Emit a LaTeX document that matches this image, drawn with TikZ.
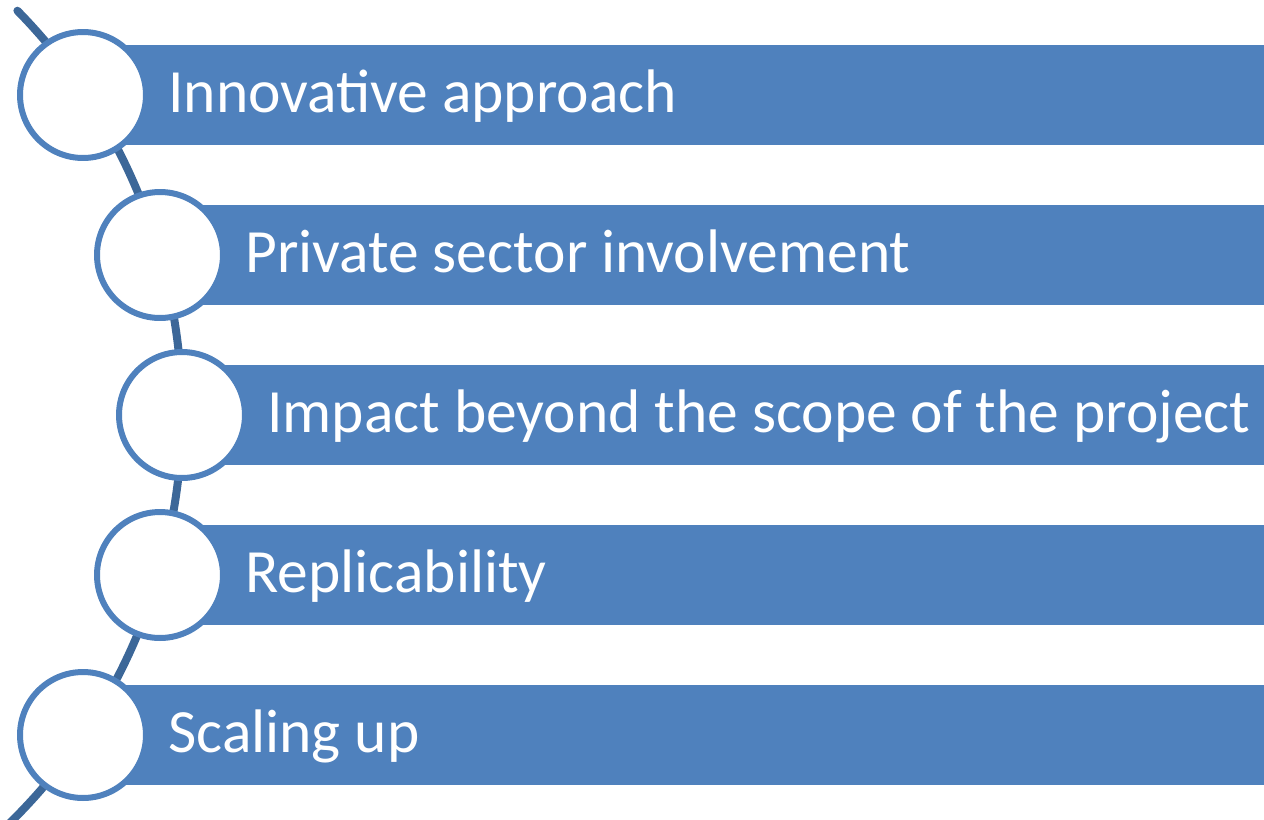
\documentclass[tikz,border=0pt]{standalone}
\usepackage{fontspec}
\setmainfont{Carlito}
\usetikzlibrary{positioning}
\definecolor{barblue}{HTML}{4F81BD}
\definecolor{spineblue}{HTML}{3C6798}

\begin{document}
\begin{tikzpicture}[
        x=0.02cm,
        y=-0.02cm,
        bar/.style={
            rectangle,
            fill=barblue,
            anchor=west,
            minimum height=2cm,
            inner sep=0pt
        },
        disc/.style={
            circle,
            draw=barblue,
            fill=white,
            line width=0.12cm,
            minimum size=2.52cm,
            inner sep=0pt
        },
        caption/.style={
            anchor=base west,
            text=white,
            inner sep=0pt,
            font=\fontsize{35}{40}\selectfont
        },
        spine/.style={draw=spineblue, line width=0.16cm, line cap=round}
    ]

    % PAGE: fixed frame, everything outside is cut off
    \clip (0,0) rectangle (1264,819);

    % SPINE: large arc behind the discs
    \draw[spine] (-392,413) ++(-44.5:574) arc[start angle=-44.5, end angle=47, radius=574];

    % ROWS: bar, disc and caption
    \foreach \i/\cx/\txt in {1/83/Innovative approach,
                             2/160/Private sector involvement,
                             3/182/Impact beyond the scope of the project,
                             4/160/Replicability,
                             5/83/Scaling up} {
        \pgfmathsetmacro{\cy}{95+160*(\i-1)}
        \node[bar, minimum width={(1264-\cx)*0.02cm}] (bar\i) at (\cx,\cy) {};
        \node[disc] (dot\i) at (\cx,\cy) {};
        \node[caption] (label\i) at ([xshift=0.38cm, yshift=-0.35cm]dot\i.east) {\txt};
    }

\end{tikzpicture}
\end{document}
